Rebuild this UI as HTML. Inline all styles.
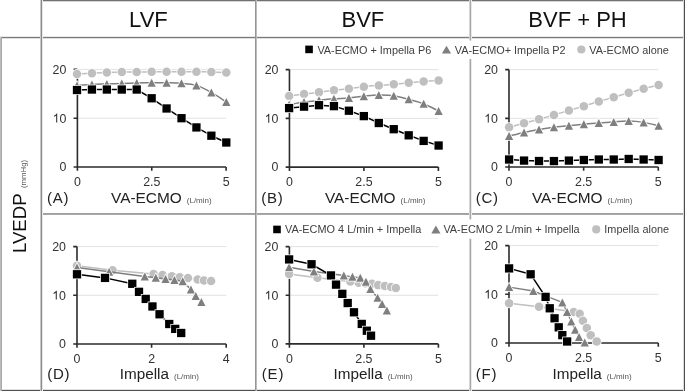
<!DOCTYPE html>
<html><head><meta charset="utf-8"><style>
html,body{margin:0;padding:0;background:#fff;}
body{width:685px;height:391px;overflow:hidden;}
svg{display:block;font-family:"Liberation Sans", sans-serif;filter:blur(0px);}
</style></head><body>
<svg width="685" height="391" viewBox="0 0 685 391">
<rect width="685" height="391" fill="#fff"/>
<rect x="42" y="1" width="642" height="1" fill="#d8d8d8"/>
<rect x="41" y="0" width="644" height="1" fill="#707070"/>
<rect x="0" y="36" width="684" height="1" fill="#e8e8e8"/>
<rect x="2" y="38" width="682" height="1" fill="#e0e0e0"/>
<rect x="0" y="37" width="685" height="1" fill="#7a7a7a"/>
<rect x="41" y="213" width="644" height="1" fill="#a0a0a0"/>
<rect x="41" y="214" width="644" height="1" fill="#a8a8a8"/>
<rect x="2" y="389" width="682" height="1" fill="#e0e0e0"/>
<rect x="0" y="390" width="685" height="1" fill="#505050"/>
<rect x="0" y="37" width="1" height="354" fill="#bbbbbb"/>
<rect x="1" y="37" width="1" height="354" fill="#aaaaaa"/>
<rect x="40" y="0" width="1" height="391" fill="#c8c8c8"/>
<rect x="42" y="0" width="1" height="391" fill="#e8e8e8"/>
<rect x="41" y="0" width="1" height="391" fill="#8a8a8a"/>
<rect x="255" y="0" width="1" height="391" fill="#959595"/>
<rect x="256" y="0" width="1" height="391" fill="#bcbcbc"/>
<rect x="469" y="0" width="1" height="391" fill="#d5d5d5"/>
<rect x="471" y="0" width="1" height="391" fill="#eaeaea"/>
<rect x="470" y="0" width="1" height="391" fill="#a8a8a8"/>
<rect x="683" y="0" width="1" height="391" fill="#dadada"/>
<rect x="684" y="0" width="1" height="391" fill="#4d4d4d"/>
<text x="148.4" y="26.9" font-size="22" text-anchor="middle" fill="#111">LVF</text>
<text x="362.9" y="26.9" font-size="22" text-anchor="middle" fill="#111">BVF</text>
<text x="577.5" y="26.9" font-size="22" text-anchor="middle" fill="#111">BVF + PH</text>
<text transform="translate(25.9,253) rotate(-90)" font-size="18.6" fill="#111">LVEDP<tspan font-size="7.8" dx="5.4" fill="#555">(mmHg)</tspan></text>
<path d="M77.4,118.23 H226.1" stroke="#e2e2e2" stroke-width="1"/>
<path d="M77.4,69.4 H226.1" stroke="#e2e2e2" stroke-width="1"/>
<path d="M77.4,69.4 V167.05 H226.1" fill="none" stroke="#2c2c2c" stroke-width="1.6"/>
<path d="M73.6,167.05 H77.4 M73.6,118.23 H77.4 M73.6,69.4 H77.4 M77.4,167.05 V170.85 M151.75,167.05 V170.85 M226.1,167.05 V170.85" stroke="#2c2c2c" stroke-width="1.6"/>
<text x="66.4" y="171.35" font-size="12.4" text-anchor="end" fill="#333333">0</text>
<text x="66.4" y="122.53" font-size="12.4" text-anchor="end" fill="#333333">0</text>
<path transform="translate(52.61,122.53) scale(0.006055,-0.006055)" d="M763 0H583V1147Q518 1085 412.5 1023Q307 961 223 930V1104Q374 1175 487 1276Q600 1377 647 1472H763Z" fill="#333333"/>
<text x="66.4" y="73.7" font-size="12.4" text-anchor="end" fill="#333333">20</text>
<text x="77.4" y="185.95" font-size="12.4" text-anchor="middle" fill="#333333">0</text>
<text x="151.75" y="185.95" font-size="12.4" text-anchor="middle" fill="#333333">2.5</text>
<text x="226.1" y="185.95" font-size="12.4" text-anchor="middle" fill="#333333">5</text>
<path d="M77,73.97 C79.49,73.85 86.95,73.49 91.93,73.25 C96.91,73 101.88,72.72 106.86,72.52 C111.84,72.31 116.81,72.11 121.79,72.03 C126.77,71.95 131.74,72.07 136.72,72.03 C141.7,71.99 146.67,71.83 151.65,71.79 C156.63,71.75 161.6,71.79 166.58,71.79 C171.56,71.79 176.53,71.79 181.51,71.79 C186.49,71.79 191.46,71.75 196.44,71.79 C201.42,71.83 206.39,71.91 211.37,72.03 C216.35,72.15 223.81,72.44 226.3,72.52" fill="none" stroke="#bfbfbf" stroke-width="1.5" stroke-linejoin="round"/>
<circle cx="77" cy="73.97" r="4.25" fill="#bfbfbf" stroke="#fff" stroke-width="1.5" paint-order="stroke"/>
<circle cx="91.93" cy="73.25" r="4.25" fill="#bfbfbf" stroke="#fff" stroke-width="1.5" paint-order="stroke"/>
<circle cx="106.86" cy="72.52" r="4.25" fill="#bfbfbf" stroke="#fff" stroke-width="1.5" paint-order="stroke"/>
<circle cx="121.79" cy="72.03" r="4.25" fill="#bfbfbf" stroke="#fff" stroke-width="1.5" paint-order="stroke"/>
<circle cx="136.72" cy="72.03" r="4.25" fill="#bfbfbf" stroke="#fff" stroke-width="1.5" paint-order="stroke"/>
<circle cx="151.65" cy="71.79" r="4.25" fill="#bfbfbf" stroke="#fff" stroke-width="1.5" paint-order="stroke"/>
<circle cx="166.58" cy="71.79" r="4.25" fill="#bfbfbf" stroke="#fff" stroke-width="1.5" paint-order="stroke"/>
<circle cx="181.51" cy="71.79" r="4.25" fill="#bfbfbf" stroke="#fff" stroke-width="1.5" paint-order="stroke"/>
<circle cx="196.44" cy="71.79" r="4.25" fill="#bfbfbf" stroke="#fff" stroke-width="1.5" paint-order="stroke"/>
<circle cx="211.37" cy="72.03" r="4.25" fill="#bfbfbf" stroke="#fff" stroke-width="1.5" paint-order="stroke"/>
<circle cx="226.3" cy="72.52" r="4.25" fill="#bfbfbf" stroke="#fff" stroke-width="1.5" paint-order="stroke"/>
<path d="M77,85.4 C79.49,85.23 86.95,84.67 91.93,84.42 C96.91,84.18 101.88,84.1 106.86,83.94 C111.84,83.77 116.81,83.61 121.79,83.45 C126.77,83.29 131.74,83.09 136.72,82.97 C141.7,82.84 146.67,82.76 151.65,82.72 C156.63,82.68 161.6,82.64 166.58,82.72 C171.56,82.8 176.53,82.76 181.51,83.21 C186.49,83.65 191.46,83.86 196.44,85.4 C201.42,86.93 206.39,89.69 211.37,92.44 C216.35,95.2 223.81,100.34 226.3,101.92" fill="none" stroke="#7f7f7f" stroke-width="1.5" stroke-linejoin="round"/>
<path d="M77,81.4 L81.1,89.4 L72.9,89.4 Z" fill="#7f7f7f" stroke="#fff" stroke-width="1.5" paint-order="stroke"/>
<path d="M91.93,80.42 L96.03,88.42 L87.83,88.42 Z" fill="#7f7f7f" stroke="#fff" stroke-width="1.5" paint-order="stroke"/>
<path d="M106.86,79.94 L110.96,87.94 L102.76,87.94 Z" fill="#7f7f7f" stroke="#fff" stroke-width="1.5" paint-order="stroke"/>
<path d="M121.79,79.45 L125.89,87.45 L117.69,87.45 Z" fill="#7f7f7f" stroke="#fff" stroke-width="1.5" paint-order="stroke"/>
<path d="M136.72,78.97 L140.82,86.97 L132.62,86.97 Z" fill="#7f7f7f" stroke="#fff" stroke-width="1.5" paint-order="stroke"/>
<path d="M151.65,78.72 L155.75,86.72 L147.55,86.72 Z" fill="#7f7f7f" stroke="#fff" stroke-width="1.5" paint-order="stroke"/>
<path d="M166.58,78.72 L170.68,86.72 L162.48,86.72 Z" fill="#7f7f7f" stroke="#fff" stroke-width="1.5" paint-order="stroke"/>
<path d="M181.51,79.21 L185.61,87.21 L177.41,87.21 Z" fill="#7f7f7f" stroke="#fff" stroke-width="1.5" paint-order="stroke"/>
<path d="M196.44,81.4 L200.54,89.4 L192.34,89.4 Z" fill="#7f7f7f" stroke="#fff" stroke-width="1.5" paint-order="stroke"/>
<path d="M211.37,88.44 L215.47,96.44 L207.27,96.44 Z" fill="#7f7f7f" stroke="#fff" stroke-width="1.5" paint-order="stroke"/>
<path d="M226.3,97.92 L230.4,105.92 L222.2,105.92 Z" fill="#7f7f7f" stroke="#fff" stroke-width="1.5" paint-order="stroke"/>
<path d="M77,90.01 L91.93,89.53 L106.86,89.53 L121.79,89.53 L136.72,89.53 L151.65,98.27 L166.58,108.48 L181.51,118.2 L196.44,127.43 L211.37,135.7 L226.3,142.5" fill="none" stroke="#000000" stroke-width="1.5" stroke-linejoin="round"/>
<rect x="72.85" y="85.86" width="8.3" height="8.3" fill="#000000" stroke="#fff" stroke-width="1.5" paint-order="stroke"/>
<rect x="87.78" y="85.38" width="8.3" height="8.3" fill="#000000" stroke="#fff" stroke-width="1.5" paint-order="stroke"/>
<rect x="102.71" y="85.38" width="8.3" height="8.3" fill="#000000" stroke="#fff" stroke-width="1.5" paint-order="stroke"/>
<rect x="117.64" y="85.38" width="8.3" height="8.3" fill="#000000" stroke="#fff" stroke-width="1.5" paint-order="stroke"/>
<rect x="132.57" y="85.38" width="8.3" height="8.3" fill="#000000" stroke="#fff" stroke-width="1.5" paint-order="stroke"/>
<rect x="147.5" y="94.12" width="8.3" height="8.3" fill="#000000" stroke="#fff" stroke-width="1.5" paint-order="stroke"/>
<rect x="162.43" y="104.33" width="8.3" height="8.3" fill="#000000" stroke="#fff" stroke-width="1.5" paint-order="stroke"/>
<rect x="177.36" y="114.05" width="8.3" height="8.3" fill="#000000" stroke="#fff" stroke-width="1.5" paint-order="stroke"/>
<rect x="192.29" y="123.28" width="8.3" height="8.3" fill="#000000" stroke="#fff" stroke-width="1.5" paint-order="stroke"/>
<rect x="207.22" y="131.55" width="8.3" height="8.3" fill="#000000" stroke="#fff" stroke-width="1.5" paint-order="stroke"/>
<rect x="222.15" y="138.35" width="8.3" height="8.3" fill="#000000" stroke="#fff" stroke-width="1.5" paint-order="stroke"/>
<path d="M289.45,118.35 H438.4" stroke="#e2e2e2" stroke-width="1"/>
<path d="M289.45,69.6 H438.4" stroke="#e2e2e2" stroke-width="1"/>
<path d="M289.45,69.6 V167.1 H438.4" fill="none" stroke="#2c2c2c" stroke-width="1.6"/>
<path d="M285.65,167.1 H289.45 M285.65,118.35 H289.45 M285.65,69.6 H289.45 M289.45,167.1 V170.9 M363.92,167.1 V170.9 M438.4,167.1 V170.9" stroke="#2c2c2c" stroke-width="1.6"/>
<text x="278.45" y="171.4" font-size="12.4" text-anchor="end" fill="#333333">0</text>
<text x="278.45" y="122.65" font-size="12.4" text-anchor="end" fill="#333333">0</text>
<path transform="translate(264.66,122.65) scale(0.006055,-0.006055)" d="M763 0H583V1147Q518 1085 412.5 1023Q307 961 223 930V1104Q374 1175 487 1276Q600 1377 647 1472H763Z" fill="#333333"/>
<text x="278.45" y="73.9" font-size="12.4" text-anchor="end" fill="#333333">20</text>
<text x="289.45" y="186" font-size="12.4" text-anchor="middle" fill="#333333">0</text>
<text x="363.92" y="186" font-size="12.4" text-anchor="middle" fill="#333333">2.5</text>
<text x="438.4" y="186" font-size="12.4" text-anchor="middle" fill="#333333">5</text>
<path d="M289.1,95.94 C291.59,95.62 299.07,94.61 304.05,94 C309.03,93.39 314.02,92.91 319,92.3 C323.98,91.68 328.97,90.91 333.95,90.31 C338.93,89.7 343.92,89.25 348.9,88.65 C353.88,88.05 358.87,87.25 363.85,86.71 C368.83,86.17 373.82,85.8 378.8,85.4 C383.78,84.99 388.77,84.71 393.75,84.28 C398.73,83.85 403.72,83.28 408.7,82.82 C413.68,82.36 418.67,81.91 423.65,81.51 C428.63,81.1 436.11,80.58 438.6,80.39" fill="none" stroke="#bfbfbf" stroke-width="1.5" stroke-linejoin="round"/>
<circle cx="289.1" cy="95.94" r="4.25" fill="#bfbfbf" stroke="#fff" stroke-width="1.5" paint-order="stroke"/>
<circle cx="304.05" cy="94" r="4.25" fill="#bfbfbf" stroke="#fff" stroke-width="1.5" paint-order="stroke"/>
<circle cx="319" cy="92.3" r="4.25" fill="#bfbfbf" stroke="#fff" stroke-width="1.5" paint-order="stroke"/>
<circle cx="333.95" cy="90.31" r="4.25" fill="#bfbfbf" stroke="#fff" stroke-width="1.5" paint-order="stroke"/>
<circle cx="348.9" cy="88.65" r="4.25" fill="#bfbfbf" stroke="#fff" stroke-width="1.5" paint-order="stroke"/>
<circle cx="363.85" cy="86.71" r="4.25" fill="#bfbfbf" stroke="#fff" stroke-width="1.5" paint-order="stroke"/>
<circle cx="378.8" cy="85.4" r="4.25" fill="#bfbfbf" stroke="#fff" stroke-width="1.5" paint-order="stroke"/>
<circle cx="393.75" cy="84.28" r="4.25" fill="#bfbfbf" stroke="#fff" stroke-width="1.5" paint-order="stroke"/>
<circle cx="408.7" cy="82.82" r="4.25" fill="#bfbfbf" stroke="#fff" stroke-width="1.5" paint-order="stroke"/>
<circle cx="423.65" cy="81.51" r="4.25" fill="#bfbfbf" stroke="#fff" stroke-width="1.5" paint-order="stroke"/>
<circle cx="438.6" cy="80.39" r="4.25" fill="#bfbfbf" stroke="#fff" stroke-width="1.5" paint-order="stroke"/>
<path d="M289.1,104.69 C291.59,104.25 299.07,102.75 304.05,102.02 C309.03,101.29 314.02,100.84 319,100.32 C323.98,99.79 328.97,99.27 333.95,98.86 C338.93,98.45 343.92,98.33 348.9,97.89 C353.88,97.44 358.87,96.67 363.85,96.19 C368.83,95.7 373.82,95.05 378.8,94.97 C383.78,94.89 388.77,94.97 393.75,95.7 C398.73,96.43 403.72,98.01 408.7,99.35 C413.68,100.68 418.67,101.78 423.65,103.72 C428.63,105.66 436.11,109.8 438.6,111.01" fill="none" stroke="#7f7f7f" stroke-width="1.5" stroke-linejoin="round"/>
<path d="M289.1,100.69 L293.2,108.69 L285,108.69 Z" fill="#7f7f7f" stroke="#fff" stroke-width="1.5" paint-order="stroke"/>
<path d="M304.05,98.02 L308.15,106.02 L299.95,106.02 Z" fill="#7f7f7f" stroke="#fff" stroke-width="1.5" paint-order="stroke"/>
<path d="M319,96.32 L323.1,104.32 L314.9,104.32 Z" fill="#7f7f7f" stroke="#fff" stroke-width="1.5" paint-order="stroke"/>
<path d="M333.95,94.86 L338.05,102.86 L329.85,102.86 Z" fill="#7f7f7f" stroke="#fff" stroke-width="1.5" paint-order="stroke"/>
<path d="M348.9,93.89 L353,101.89 L344.8,101.89 Z" fill="#7f7f7f" stroke="#fff" stroke-width="1.5" paint-order="stroke"/>
<path d="M363.85,92.19 L367.95,100.19 L359.75,100.19 Z" fill="#7f7f7f" stroke="#fff" stroke-width="1.5" paint-order="stroke"/>
<path d="M378.8,90.97 L382.9,98.97 L374.7,98.97 Z" fill="#7f7f7f" stroke="#fff" stroke-width="1.5" paint-order="stroke"/>
<path d="M393.75,91.7 L397.85,99.7 L389.65,99.7 Z" fill="#7f7f7f" stroke="#fff" stroke-width="1.5" paint-order="stroke"/>
<path d="M408.7,95.35 L412.8,103.35 L404.6,103.35 Z" fill="#7f7f7f" stroke="#fff" stroke-width="1.5" paint-order="stroke"/>
<path d="M423.65,99.72 L427.75,107.72 L419.55,107.72 Z" fill="#7f7f7f" stroke="#fff" stroke-width="1.5" paint-order="stroke"/>
<path d="M438.6,107.01 L442.7,115.01 L434.5,115.01 Z" fill="#7f7f7f" stroke="#fff" stroke-width="1.5" paint-order="stroke"/>
<path d="M289.1,108.09 L304.05,106.64 L319,105.18 L333.95,106.15 L348.9,110.72 L363.85,116.11 L378.8,123.01 L393.75,129.19 L408.7,135.31 L423.65,140.9 L438.6,145.52" fill="none" stroke="#000000" stroke-width="1.5" stroke-linejoin="round"/>
<rect x="284.95" y="103.94" width="8.3" height="8.3" fill="#000000" stroke="#fff" stroke-width="1.5" paint-order="stroke"/>
<rect x="299.9" y="102.49" width="8.3" height="8.3" fill="#000000" stroke="#fff" stroke-width="1.5" paint-order="stroke"/>
<rect x="314.85" y="101.03" width="8.3" height="8.3" fill="#000000" stroke="#fff" stroke-width="1.5" paint-order="stroke"/>
<rect x="329.8" y="102" width="8.3" height="8.3" fill="#000000" stroke="#fff" stroke-width="1.5" paint-order="stroke"/>
<rect x="344.75" y="106.57" width="8.3" height="8.3" fill="#000000" stroke="#fff" stroke-width="1.5" paint-order="stroke"/>
<rect x="359.7" y="111.96" width="8.3" height="8.3" fill="#000000" stroke="#fff" stroke-width="1.5" paint-order="stroke"/>
<rect x="374.65" y="118.86" width="8.3" height="8.3" fill="#000000" stroke="#fff" stroke-width="1.5" paint-order="stroke"/>
<rect x="389.6" y="125.04" width="8.3" height="8.3" fill="#000000" stroke="#fff" stroke-width="1.5" paint-order="stroke"/>
<rect x="404.55" y="131.16" width="8.3" height="8.3" fill="#000000" stroke="#fff" stroke-width="1.5" paint-order="stroke"/>
<rect x="419.5" y="136.75" width="8.3" height="8.3" fill="#000000" stroke="#fff" stroke-width="1.5" paint-order="stroke"/>
<rect x="434.45" y="141.37" width="8.3" height="8.3" fill="#000000" stroke="#fff" stroke-width="1.5" paint-order="stroke"/>
<path d="M509,118.33 H658.3" stroke="#e2e2e2" stroke-width="1"/>
<path d="M509,69.65 H658.3" stroke="#e2e2e2" stroke-width="1"/>
<path d="M509,69.65 V167 H658.3" fill="none" stroke="#2c2c2c" stroke-width="1.6"/>
<path d="M505.2,167 H509 M505.2,118.33 H509 M505.2,69.65 H509 M509,167 V170.8 M583.65,167 V170.8 M658.3,167 V170.8" stroke="#2c2c2c" stroke-width="1.6"/>
<text x="498" y="171.3" font-size="12.4" text-anchor="end" fill="#333333">0</text>
<text x="498" y="122.62" font-size="12.4" text-anchor="end" fill="#333333">0</text>
<path transform="translate(484.21,122.62) scale(0.006055,-0.006055)" d="M763 0H583V1147Q518 1085 412.5 1023Q307 961 223 930V1104Q374 1175 487 1276Q600 1377 647 1472H763Z" fill="#333333"/>
<text x="498" y="73.95" font-size="12.4" text-anchor="end" fill="#333333">20</text>
<text x="509" y="185.9" font-size="12.4" text-anchor="middle" fill="#333333">0</text>
<text x="583.65" y="185.9" font-size="12.4" text-anchor="middle" fill="#333333">2.5</text>
<text x="658.3" y="185.9" font-size="12.4" text-anchor="middle" fill="#333333">5</text>
<path d="M509.1,127.29 C511.59,126.6 519.07,124.51 524.05,123.16 C529.03,121.81 534.02,120.55 539,119.17 C543.98,117.8 548.97,116.34 553.95,114.9 C558.93,113.46 563.92,111.98 568.9,110.52 C573.88,109.07 578.87,107.65 583.85,106.15 C588.83,104.65 593.82,103.03 598.8,101.53 C603.78,100.03 608.77,98.62 613.75,97.16 C618.73,95.7 623.72,94.2 628.7,92.78 C633.68,91.37 638.67,89.95 643.65,88.65 C648.63,87.36 656.11,85.62 658.6,85.01" fill="none" stroke="#bfbfbf" stroke-width="1.5" stroke-linejoin="round"/>
<circle cx="509.1" cy="127.29" r="4.25" fill="#bfbfbf" stroke="#fff" stroke-width="1.5" paint-order="stroke"/>
<circle cx="524.05" cy="123.16" r="4.25" fill="#bfbfbf" stroke="#fff" stroke-width="1.5" paint-order="stroke"/>
<circle cx="539" cy="119.17" r="4.25" fill="#bfbfbf" stroke="#fff" stroke-width="1.5" paint-order="stroke"/>
<circle cx="553.95" cy="114.9" r="4.25" fill="#bfbfbf" stroke="#fff" stroke-width="1.5" paint-order="stroke"/>
<circle cx="568.9" cy="110.52" r="4.25" fill="#bfbfbf" stroke="#fff" stroke-width="1.5" paint-order="stroke"/>
<circle cx="583.85" cy="106.15" r="4.25" fill="#bfbfbf" stroke="#fff" stroke-width="1.5" paint-order="stroke"/>
<circle cx="598.8" cy="101.53" r="4.25" fill="#bfbfbf" stroke="#fff" stroke-width="1.5" paint-order="stroke"/>
<circle cx="613.75" cy="97.16" r="4.25" fill="#bfbfbf" stroke="#fff" stroke-width="1.5" paint-order="stroke"/>
<circle cx="628.7" cy="92.78" r="4.25" fill="#bfbfbf" stroke="#fff" stroke-width="1.5" paint-order="stroke"/>
<circle cx="643.65" cy="88.65" r="4.25" fill="#bfbfbf" stroke="#fff" stroke-width="1.5" paint-order="stroke"/>
<circle cx="658.6" cy="85.01" r="4.25" fill="#bfbfbf" stroke="#fff" stroke-width="1.5" paint-order="stroke"/>
<path d="M509.1,136.04 C511.59,135.45 519.07,133.58 524.05,132.49 C529.03,131.4 534.02,130.36 539,129.48 C543.98,128.6 548.97,127.81 553.95,127.19 C558.93,126.58 563.92,126.28 568.9,125.78 C573.88,125.29 578.87,124.71 583.85,124.23 C588.83,123.75 593.82,123.31 598.8,122.92 C603.78,122.53 608.77,122.2 613.75,121.9 C618.73,121.6 623.72,121.04 628.7,121.12 C633.68,121.2 638.67,121.62 643.65,122.38 C648.63,123.14 656.11,125.14 658.6,125.69" fill="none" stroke="#7f7f7f" stroke-width="1.5" stroke-linejoin="round"/>
<path d="M509.1,132.04 L513.2,140.04 L505,140.04 Z" fill="#7f7f7f" stroke="#fff" stroke-width="1.5" paint-order="stroke"/>
<path d="M524.05,128.49 L528.15,136.49 L519.95,136.49 Z" fill="#7f7f7f" stroke="#fff" stroke-width="1.5" paint-order="stroke"/>
<path d="M539,125.48 L543.1,133.48 L534.9,133.48 Z" fill="#7f7f7f" stroke="#fff" stroke-width="1.5" paint-order="stroke"/>
<path d="M553.95,123.19 L558.05,131.19 L549.85,131.19 Z" fill="#7f7f7f" stroke="#fff" stroke-width="1.5" paint-order="stroke"/>
<path d="M568.9,121.78 L573,129.78 L564.8,129.78 Z" fill="#7f7f7f" stroke="#fff" stroke-width="1.5" paint-order="stroke"/>
<path d="M583.85,120.23 L587.95,128.23 L579.75,128.23 Z" fill="#7f7f7f" stroke="#fff" stroke-width="1.5" paint-order="stroke"/>
<path d="M598.8,118.92 L602.9,126.92 L594.7,126.92 Z" fill="#7f7f7f" stroke="#fff" stroke-width="1.5" paint-order="stroke"/>
<path d="M613.75,117.9 L617.85,125.9 L609.65,125.9 Z" fill="#7f7f7f" stroke="#fff" stroke-width="1.5" paint-order="stroke"/>
<path d="M628.7,117.12 L632.8,125.12 L624.6,125.12 Z" fill="#7f7f7f" stroke="#fff" stroke-width="1.5" paint-order="stroke"/>
<path d="M643.65,118.38 L647.75,126.38 L639.55,126.38 Z" fill="#7f7f7f" stroke="#fff" stroke-width="1.5" paint-order="stroke"/>
<path d="M658.6,121.69 L662.7,129.69 L654.5,129.69 Z" fill="#7f7f7f" stroke="#fff" stroke-width="1.5" paint-order="stroke"/>
<path d="M509.1,159.51 L524.05,160.58 L539,161.02 L553.95,161.07 L568.9,160.58 L583.85,160 L598.8,159.51 L613.75,159.51 L628.7,158.98 L643.65,159.51 L658.6,160" fill="none" stroke="#000000" stroke-width="1.5" stroke-linejoin="round"/>
<rect x="504.95" y="155.36" width="8.3" height="8.3" fill="#000000" stroke="#fff" stroke-width="1.5" paint-order="stroke"/>
<rect x="519.9" y="156.43" width="8.3" height="8.3" fill="#000000" stroke="#fff" stroke-width="1.5" paint-order="stroke"/>
<rect x="534.85" y="156.87" width="8.3" height="8.3" fill="#000000" stroke="#fff" stroke-width="1.5" paint-order="stroke"/>
<rect x="549.8" y="156.92" width="8.3" height="8.3" fill="#000000" stroke="#fff" stroke-width="1.5" paint-order="stroke"/>
<rect x="564.75" y="156.43" width="8.3" height="8.3" fill="#000000" stroke="#fff" stroke-width="1.5" paint-order="stroke"/>
<rect x="579.7" y="155.85" width="8.3" height="8.3" fill="#000000" stroke="#fff" stroke-width="1.5" paint-order="stroke"/>
<rect x="594.65" y="155.36" width="8.3" height="8.3" fill="#000000" stroke="#fff" stroke-width="1.5" paint-order="stroke"/>
<rect x="609.6" y="155.36" width="8.3" height="8.3" fill="#000000" stroke="#fff" stroke-width="1.5" paint-order="stroke"/>
<rect x="624.55" y="154.83" width="8.3" height="8.3" fill="#000000" stroke="#fff" stroke-width="1.5" paint-order="stroke"/>
<rect x="639.5" y="155.36" width="8.3" height="8.3" fill="#000000" stroke="#fff" stroke-width="1.5" paint-order="stroke"/>
<rect x="654.45" y="155.85" width="8.3" height="8.3" fill="#000000" stroke="#fff" stroke-width="1.5" paint-order="stroke"/>
<path d="M77,295.3 H226.2" stroke="#e2e2e2" stroke-width="1"/>
<path d="M77,246.6 H226.2" stroke="#e2e2e2" stroke-width="1"/>
<path d="M77,246.6 V344 H226.2" fill="none" stroke="#2c2c2c" stroke-width="1.6"/>
<path d="M73.2,344 H77 M73.2,295.3 H77 M73.2,246.6 H77 M77,344 V347.8 M151.6,344 V347.8 M226.2,344 V347.8" stroke="#2c2c2c" stroke-width="1.6"/>
<text x="66" y="348.3" font-size="12.4" text-anchor="end" fill="#333333">0</text>
<text x="66" y="299.6" font-size="12.4" text-anchor="end" fill="#333333">0</text>
<path transform="translate(52.21,299.6) scale(0.006055,-0.006055)" d="M763 0H583V1147Q518 1085 412.5 1023Q307 961 223 930V1104Q374 1175 487 1276Q600 1377 647 1472H763Z" fill="#333333"/>
<text x="66" y="250.9" font-size="12.4" text-anchor="end" fill="#333333">20</text>
<text x="77" y="362.9" font-size="12.4" text-anchor="middle" fill="#333333">0</text>
<text x="151.6" y="362.9" font-size="12.4" text-anchor="middle" fill="#333333">2</text>
<text x="226.2" y="362.9" font-size="12.4" text-anchor="middle" fill="#333333">4</text>
<path d="M77,265.76 L112.48,270.14 L153.57,273.9 L162.53,275.07 L171.87,276.24 L179.71,277.31 L187.93,278.09 L197.64,279.41 L203.99,280.38 L211.09,281.11" fill="none" stroke="#bfbfbf" stroke-width="1.5" stroke-linejoin="round"/>
<circle cx="77" cy="265.76" r="4.25" fill="#bfbfbf" stroke="#fff" stroke-width="1.5" paint-order="stroke"/>
<circle cx="112.48" cy="270.14" r="4.25" fill="#bfbfbf" stroke="#fff" stroke-width="1.5" paint-order="stroke"/>
<circle cx="153.57" cy="273.9" r="4.25" fill="#bfbfbf" stroke="#fff" stroke-width="1.5" paint-order="stroke"/>
<circle cx="162.53" cy="275.07" r="4.25" fill="#bfbfbf" stroke="#fff" stroke-width="1.5" paint-order="stroke"/>
<circle cx="171.87" cy="276.24" r="4.25" fill="#bfbfbf" stroke="#fff" stroke-width="1.5" paint-order="stroke"/>
<circle cx="179.71" cy="277.31" r="4.25" fill="#bfbfbf" stroke="#fff" stroke-width="1.5" paint-order="stroke"/>
<circle cx="187.93" cy="278.09" r="4.25" fill="#bfbfbf" stroke="#fff" stroke-width="1.5" paint-order="stroke"/>
<circle cx="197.64" cy="279.41" r="4.25" fill="#bfbfbf" stroke="#fff" stroke-width="1.5" paint-order="stroke"/>
<circle cx="203.99" cy="280.38" r="4.25" fill="#bfbfbf" stroke="#fff" stroke-width="1.5" paint-order="stroke"/>
<circle cx="211.09" cy="281.11" r="4.25" fill="#bfbfbf" stroke="#fff" stroke-width="1.5" paint-order="stroke"/>
<path d="M77,267.46 L109.12,271.85 L144.79,276.48 L155.81,277.7 L165.52,278.92 L174.48,280.04 L182.7,281.36 L190.92,289.4 L195.77,295.98 L201.38,302.07" fill="none" stroke="#7f7f7f" stroke-width="1.5" stroke-linejoin="round"/>
<path d="M77,263.46 L81.1,271.46 L72.9,271.46 Z" fill="#7f7f7f" stroke="#fff" stroke-width="1.5" paint-order="stroke"/>
<path d="M109.12,267.85 L113.22,275.85 L105.02,275.85 Z" fill="#7f7f7f" stroke="#fff" stroke-width="1.5" paint-order="stroke"/>
<path d="M144.79,272.48 L148.89,280.48 L140.69,280.48 Z" fill="#7f7f7f" stroke="#fff" stroke-width="1.5" paint-order="stroke"/>
<path d="M155.81,273.7 L159.91,281.7 L151.71,281.7 Z" fill="#7f7f7f" stroke="#fff" stroke-width="1.5" paint-order="stroke"/>
<path d="M165.52,274.92 L169.62,282.92 L161.42,282.92 Z" fill="#7f7f7f" stroke="#fff" stroke-width="1.5" paint-order="stroke"/>
<path d="M174.48,276.04 L178.58,284.04 L170.38,284.04 Z" fill="#7f7f7f" stroke="#fff" stroke-width="1.5" paint-order="stroke"/>
<path d="M182.7,277.36 L186.8,285.36 L178.6,285.36 Z" fill="#7f7f7f" stroke="#fff" stroke-width="1.5" paint-order="stroke"/>
<path d="M190.92,285.4 L195.02,293.4 L186.82,293.4 Z" fill="#7f7f7f" stroke="#fff" stroke-width="1.5" paint-order="stroke"/>
<path d="M195.77,291.98 L199.87,299.98 L191.67,299.98 Z" fill="#7f7f7f" stroke="#fff" stroke-width="1.5" paint-order="stroke"/>
<path d="M201.38,298.07 L205.48,306.07 L197.28,306.07 Z" fill="#7f7f7f" stroke="#fff" stroke-width="1.5" paint-order="stroke"/>
<path d="M77,274.29 L105.01,277.89 L132.28,283.79 L139,291.84 L145.72,298.91 L152.45,306.46 L159.54,314.26 L169.25,324.01 L175.23,328.89 L181.21,332.98" fill="none" stroke="#000000" stroke-width="1.5" stroke-linejoin="round"/>
<rect x="72.85" y="270.14" width="8.3" height="8.3" fill="#000000" stroke="#fff" stroke-width="1.5" paint-order="stroke"/>
<rect x="100.86" y="273.75" width="8.3" height="8.3" fill="#000000" stroke="#fff" stroke-width="1.5" paint-order="stroke"/>
<rect x="128.13" y="279.64" width="8.3" height="8.3" fill="#000000" stroke="#fff" stroke-width="1.5" paint-order="stroke"/>
<rect x="134.85" y="287.69" width="8.3" height="8.3" fill="#000000" stroke="#fff" stroke-width="1.5" paint-order="stroke"/>
<rect x="141.57" y="294.76" width="8.3" height="8.3" fill="#000000" stroke="#fff" stroke-width="1.5" paint-order="stroke"/>
<rect x="148.3" y="302.31" width="8.3" height="8.3" fill="#000000" stroke="#fff" stroke-width="1.5" paint-order="stroke"/>
<rect x="155.39" y="310.11" width="8.3" height="8.3" fill="#000000" stroke="#fff" stroke-width="1.5" paint-order="stroke"/>
<rect x="165.1" y="319.86" width="8.3" height="8.3" fill="#000000" stroke="#fff" stroke-width="1.5" paint-order="stroke"/>
<rect x="171.08" y="324.74" width="8.3" height="8.3" fill="#000000" stroke="#fff" stroke-width="1.5" paint-order="stroke"/>
<rect x="177.06" y="328.83" width="8.3" height="8.3" fill="#000000" stroke="#fff" stroke-width="1.5" paint-order="stroke"/>
<path d="M289.4,295.27 H438.4" stroke="#e2e2e2" stroke-width="1"/>
<path d="M289.4,246.65 H438.4" stroke="#e2e2e2" stroke-width="1"/>
<path d="M289.4,246.65 V343.9 H438.4" fill="none" stroke="#2c2c2c" stroke-width="1.6"/>
<path d="M285.6,343.9 H289.4 M285.6,295.27 H289.4 M285.6,246.65 H289.4 M289.4,343.9 V347.7 M363.9,343.9 V347.7 M438.4,343.9 V347.7" stroke="#2c2c2c" stroke-width="1.6"/>
<text x="278.4" y="348.2" font-size="12.4" text-anchor="end" fill="#333333">0</text>
<text x="278.4" y="299.57" font-size="12.4" text-anchor="end" fill="#333333">0</text>
<path transform="translate(264.61,299.57) scale(0.006055,-0.006055)" d="M763 0H583V1147Q518 1085 412.5 1023Q307 961 223 930V1104Q374 1175 487 1276Q600 1377 647 1472H763Z" fill="#333333"/>
<text x="278.4" y="250.95" font-size="12.4" text-anchor="end" fill="#333333">20</text>
<text x="289.4" y="362.8" font-size="12.4" text-anchor="middle" fill="#333333">0</text>
<text x="363.9" y="362.8" font-size="12.4" text-anchor="middle" fill="#333333">2.5</text>
<text x="438.4" y="362.8" font-size="12.4" text-anchor="middle" fill="#333333">5</text>
<path d="M289.1,273.96 L317.5,277.84 L350.4,281.48 L358.77,282.69 L365.35,283.18 L371.92,283.66 L378.2,285.12 L384.78,286.09 L391.06,287.06 L395.84,288.03" fill="none" stroke="#bfbfbf" stroke-width="1.5" stroke-linejoin="round"/>
<circle cx="289.1" cy="273.96" r="4.25" fill="#bfbfbf" stroke="#fff" stroke-width="1.5" paint-order="stroke"/>
<circle cx="317.5" cy="277.84" r="4.25" fill="#bfbfbf" stroke="#fff" stroke-width="1.5" paint-order="stroke"/>
<circle cx="350.4" cy="281.48" r="4.25" fill="#bfbfbf" stroke="#fff" stroke-width="1.5" paint-order="stroke"/>
<circle cx="358.77" cy="282.69" r="4.25" fill="#bfbfbf" stroke="#fff" stroke-width="1.5" paint-order="stroke"/>
<circle cx="365.35" cy="283.18" r="4.25" fill="#bfbfbf" stroke="#fff" stroke-width="1.5" paint-order="stroke"/>
<circle cx="371.92" cy="283.66" r="4.25" fill="#bfbfbf" stroke="#fff" stroke-width="1.5" paint-order="stroke"/>
<circle cx="378.2" cy="285.12" r="4.25" fill="#bfbfbf" stroke="#fff" stroke-width="1.5" paint-order="stroke"/>
<circle cx="384.78" cy="286.09" r="4.25" fill="#bfbfbf" stroke="#fff" stroke-width="1.5" paint-order="stroke"/>
<circle cx="391.06" cy="287.06" r="4.25" fill="#bfbfbf" stroke="#fff" stroke-width="1.5" paint-order="stroke"/>
<circle cx="395.84" cy="288.03" r="4.25" fill="#bfbfbf" stroke="#fff" stroke-width="1.5" paint-order="stroke"/>
<path d="M289.1,267.17 L313.92,271.54 L343.82,275.42 L352.49,276.87 L360.26,277.84 L365.94,281.72 L370.43,289 L377.6,297.73 L382.09,304.03 L386.87,310.58" fill="none" stroke="#7f7f7f" stroke-width="1.5" stroke-linejoin="round"/>
<path d="M289.1,263.17 L293.2,271.17 L285,271.17 Z" fill="#7f7f7f" stroke="#fff" stroke-width="1.5" paint-order="stroke"/>
<path d="M313.92,267.54 L318.02,275.54 L309.82,275.54 Z" fill="#7f7f7f" stroke="#fff" stroke-width="1.5" paint-order="stroke"/>
<path d="M343.82,271.42 L347.92,279.42 L339.72,279.42 Z" fill="#7f7f7f" stroke="#fff" stroke-width="1.5" paint-order="stroke"/>
<path d="M352.49,272.87 L356.59,280.87 L348.39,280.87 Z" fill="#7f7f7f" stroke="#fff" stroke-width="1.5" paint-order="stroke"/>
<path d="M360.26,273.84 L364.36,281.84 L356.16,281.84 Z" fill="#7f7f7f" stroke="#fff" stroke-width="1.5" paint-order="stroke"/>
<path d="M365.94,277.72 L370.04,285.72 L361.84,285.72 Z" fill="#7f7f7f" stroke="#fff" stroke-width="1.5" paint-order="stroke"/>
<path d="M370.43,285 L374.53,293 L366.33,293 Z" fill="#7f7f7f" stroke="#fff" stroke-width="1.5" paint-order="stroke"/>
<path d="M377.6,293.73 L381.7,301.73 L373.5,301.73 Z" fill="#7f7f7f" stroke="#fff" stroke-width="1.5" paint-order="stroke"/>
<path d="M382.09,300.03 L386.19,308.03 L377.99,308.03 Z" fill="#7f7f7f" stroke="#fff" stroke-width="1.5" paint-order="stroke"/>
<path d="M386.87,306.58 L390.97,314.58 L382.77,314.58 Z" fill="#7f7f7f" stroke="#fff" stroke-width="1.5" paint-order="stroke"/>
<path d="M289.1,259.41 L311.53,264.26 L330.96,275.42 L336.04,284.63 L342.32,293.85 L347.7,303.06 L353.98,312.28 L361.76,323.92 L366.84,330.7 L371.03,335.7" fill="none" stroke="#000000" stroke-width="1.5" stroke-linejoin="round"/>
<rect x="284.95" y="255.26" width="8.3" height="8.3" fill="#000000" stroke="#fff" stroke-width="1.5" paint-order="stroke"/>
<rect x="307.38" y="260.11" width="8.3" height="8.3" fill="#000000" stroke="#fff" stroke-width="1.5" paint-order="stroke"/>
<rect x="326.81" y="271.27" width="8.3" height="8.3" fill="#000000" stroke="#fff" stroke-width="1.5" paint-order="stroke"/>
<rect x="331.89" y="280.48" width="8.3" height="8.3" fill="#000000" stroke="#fff" stroke-width="1.5" paint-order="stroke"/>
<rect x="338.17" y="289.7" width="8.3" height="8.3" fill="#000000" stroke="#fff" stroke-width="1.5" paint-order="stroke"/>
<rect x="343.55" y="298.91" width="8.3" height="8.3" fill="#000000" stroke="#fff" stroke-width="1.5" paint-order="stroke"/>
<rect x="349.83" y="308.13" width="8.3" height="8.3" fill="#000000" stroke="#fff" stroke-width="1.5" paint-order="stroke"/>
<rect x="357.61" y="319.77" width="8.3" height="8.3" fill="#000000" stroke="#fff" stroke-width="1.5" paint-order="stroke"/>
<rect x="362.69" y="326.56" width="8.3" height="8.3" fill="#000000" stroke="#fff" stroke-width="1.5" paint-order="stroke"/>
<rect x="366.88" y="331.55" width="8.3" height="8.3" fill="#000000" stroke="#fff" stroke-width="1.5" paint-order="stroke"/>
<path d="M509,294.3 H658.3" stroke="#e2e2e2" stroke-width="1"/>
<path d="M509,245.6 H658.3" stroke="#e2e2e2" stroke-width="1"/>
<path d="M509,245.6 V343 H658.3" fill="none" stroke="#2c2c2c" stroke-width="1.6"/>
<path d="M505.2,343 H509 M505.2,294.3 H509 M505.2,245.6 H509 M509,343 V346.8 M583.65,343 V346.8 M658.3,343 V346.8" stroke="#2c2c2c" stroke-width="1.6"/>
<text x="498" y="347.3" font-size="12.4" text-anchor="end" fill="#333333">0</text>
<text x="498" y="298.6" font-size="12.4" text-anchor="end" fill="#333333">0</text>
<path transform="translate(484.21,298.6) scale(0.006055,-0.006055)" d="M763 0H583V1147Q518 1085 412.5 1023Q307 961 223 930V1104Q374 1175 487 1276Q600 1377 647 1472H763Z" fill="#333333"/>
<text x="498" y="249.9" font-size="12.4" text-anchor="end" fill="#333333">20</text>
<text x="509" y="361.9" font-size="12.4" text-anchor="middle" fill="#333333">0</text>
<text x="583.65" y="361.9" font-size="12.4" text-anchor="middle" fill="#333333">2.5</text>
<text x="658.3" y="361.9" font-size="12.4" text-anchor="middle" fill="#333333">5</text>
<path d="M509.1,303.21 L539,306.82 L573.68,311.99 L579.66,313.69 L582.95,320.76 L586.84,328.07 L590.73,335.19 L596.71,341.38" fill="none" stroke="#bfbfbf" stroke-width="1.5" stroke-linejoin="round"/>
<circle cx="509.1" cy="303.21" r="4.25" fill="#bfbfbf" stroke="#fff" stroke-width="1.5" paint-order="stroke"/>
<circle cx="539" cy="306.82" r="4.25" fill="#bfbfbf" stroke="#fff" stroke-width="1.5" paint-order="stroke"/>
<circle cx="573.68" cy="311.99" r="4.25" fill="#bfbfbf" stroke="#fff" stroke-width="1.5" paint-order="stroke"/>
<circle cx="579.66" cy="313.69" r="4.25" fill="#bfbfbf" stroke="#fff" stroke-width="1.5" paint-order="stroke"/>
<circle cx="582.95" cy="320.76" r="4.25" fill="#bfbfbf" stroke="#fff" stroke-width="1.5" paint-order="stroke"/>
<circle cx="586.84" cy="328.07" r="4.25" fill="#bfbfbf" stroke="#fff" stroke-width="1.5" paint-order="stroke"/>
<circle cx="590.73" cy="335.19" r="4.25" fill="#bfbfbf" stroke="#fff" stroke-width="1.5" paint-order="stroke"/>
<circle cx="596.71" cy="341.38" r="4.25" fill="#bfbfbf" stroke="#fff" stroke-width="1.5" paint-order="stroke"/>
<path d="M509.1,287.12 L533.32,291.02 L545.58,295.9 L562.32,302.38 L567.11,311.99 L571.29,321.49 L575.18,329.83 L579.07,337 L584.75,342.46" fill="none" stroke="#7f7f7f" stroke-width="1.5" stroke-linejoin="round"/>
<path d="M509.1,283.12 L513.2,291.12 L505,291.12 Z" fill="#7f7f7f" stroke="#fff" stroke-width="1.5" paint-order="stroke"/>
<path d="M533.32,287.02 L537.42,295.02 L529.22,295.02 Z" fill="#7f7f7f" stroke="#fff" stroke-width="1.5" paint-order="stroke"/>
<path d="M545.58,291.9 L549.68,299.9 L541.48,299.9 Z" fill="#7f7f7f" stroke="#fff" stroke-width="1.5" paint-order="stroke"/>
<path d="M562.32,298.38 L566.42,306.38 L558.22,306.38 Z" fill="#7f7f7f" stroke="#fff" stroke-width="1.5" paint-order="stroke"/>
<path d="M567.11,307.99 L571.21,315.99 L563.01,315.99 Z" fill="#7f7f7f" stroke="#fff" stroke-width="1.5" paint-order="stroke"/>
<path d="M571.29,317.49 L575.39,325.49 L567.19,325.49 Z" fill="#7f7f7f" stroke="#fff" stroke-width="1.5" paint-order="stroke"/>
<path d="M575.18,325.83 L579.28,333.83 L571.08,333.83 Z" fill="#7f7f7f" stroke="#fff" stroke-width="1.5" paint-order="stroke"/>
<path d="M579.07,333 L583.17,341 L574.97,341 Z" fill="#7f7f7f" stroke="#fff" stroke-width="1.5" paint-order="stroke"/>
<path d="M584.75,338.46 L588.85,346.46 L580.65,346.46 Z" fill="#7f7f7f" stroke="#fff" stroke-width="1.5" paint-order="stroke"/>
<path d="M509.1,268.4 L530.63,274.3 L545.58,296.88 L549.76,308.28 L554.55,318.32 L558.73,327.34 L562.32,335.14 L567.11,341.48" fill="none" stroke="#000000" stroke-width="1.5" stroke-linejoin="round"/>
<rect x="504.95" y="264.25" width="8.3" height="8.3" fill="#000000" stroke="#fff" stroke-width="1.5" paint-order="stroke"/>
<rect x="526.48" y="270.15" width="8.3" height="8.3" fill="#000000" stroke="#fff" stroke-width="1.5" paint-order="stroke"/>
<rect x="541.43" y="292.73" width="8.3" height="8.3" fill="#000000" stroke="#fff" stroke-width="1.5" paint-order="stroke"/>
<rect x="545.61" y="304.13" width="8.3" height="8.3" fill="#000000" stroke="#fff" stroke-width="1.5" paint-order="stroke"/>
<rect x="550.4" y="314.18" width="8.3" height="8.3" fill="#000000" stroke="#fff" stroke-width="1.5" paint-order="stroke"/>
<rect x="554.58" y="323.19" width="8.3" height="8.3" fill="#000000" stroke="#fff" stroke-width="1.5" paint-order="stroke"/>
<rect x="558.17" y="330.99" width="8.3" height="8.3" fill="#000000" stroke="#fff" stroke-width="1.5" paint-order="stroke"/>
<rect x="562.96" y="337.33" width="8.3" height="8.3" fill="#000000" stroke="#fff" stroke-width="1.5" paint-order="stroke"/>
<text x="46.9" y="202.9" font-size="15" letter-spacing="0.8" fill="#222">(A)</text>
<text x="111.1" y="202.5" font-size="15.4" fill="#222">VA-ECMO<tspan font-size="8" fill="#555" dx="5">(L/min)</tspan></text>
<text x="261.2" y="202.9" font-size="15" letter-spacing="0.8" fill="#222">(B)</text>
<text x="324.9" y="202.5" font-size="15.4" fill="#222">VA-ECMO<tspan font-size="8" fill="#555" dx="5">(L/min)</tspan></text>
<text x="475.7" y="202.9" font-size="15" letter-spacing="0.8" fill="#222">(C)</text>
<text x="531.9" y="202.5" font-size="15.4" fill="#222">VA-ECMO<tspan font-size="8" fill="#555" dx="5">(L/min)</tspan></text>
<text x="47.2" y="379.3" font-size="15" letter-spacing="0.8" fill="#222">(D)</text>
<text x="119.8" y="379.3" font-size="15.25" fill="#222">Impella<tspan font-size="8" fill="#555" dx="5">(L/min)</tspan></text>
<text x="261.8" y="379.3" font-size="15" letter-spacing="0.8" fill="#222">(E)</text>
<text x="333.5" y="379.3" font-size="15.25" fill="#222">Impella<tspan font-size="8" fill="#555" dx="5">(L/min)</tspan></text>
<text x="475.7" y="379.3" font-size="15" letter-spacing="0.8" fill="#222">(F)</text>
<text x="552.6" y="379.3" font-size="15.25" fill="#222">Impella<tspan font-size="8" fill="#555" dx="5">(L/min)</tspan></text>
<rect x="299" y="40.6" width="372" height="18.4" fill="#fff"/>
<rect x="268" y="219.4" width="404" height="19.3" fill="#fff"/>
<rect x="305.25" y="45.6" width="7.6" height="7.6" fill="#000000"/>
<text x="317.4" y="53.5" font-size="10.9" fill="#404040">VA-ECMO + Impella P6</text>
<path d="M446.5,45.7 L451.1,53.5 L441.9,53.5 Z" fill="#7f7f7f"/>
<text x="454.7" y="53.5" font-size="10.9" fill="#404040">VA-ECMO+ Impella P2</text>
<circle cx="581.3" cy="49.5" r="4.1" fill="#bfbfbf"/>
<text x="589.2" y="53.5" font-size="10.9" fill="#404040">VA-ECMO alone</text>
<rect x="273.2" y="225.65" width="7.6" height="7.6" fill="#000000"/>
<text x="285" y="233.4" font-size="10.9" fill="#404040">VA-ECMO 4 L/min + Impella</text>
<path d="M435.9,225.6 L440.5,233.4 L431.3,233.4 Z" fill="#7f7f7f"/>
<text x="443.4" y="233.4" font-size="10.9" fill="#404040">VA-ECMO 2 L/min + Impella</text>
<circle cx="596.25" cy="229.45" r="4.1" fill="#bfbfbf"/>
<text x="604.3" y="233.4" font-size="10.9" fill="#404040">Impella alone</text>
</svg>
</body></html>
